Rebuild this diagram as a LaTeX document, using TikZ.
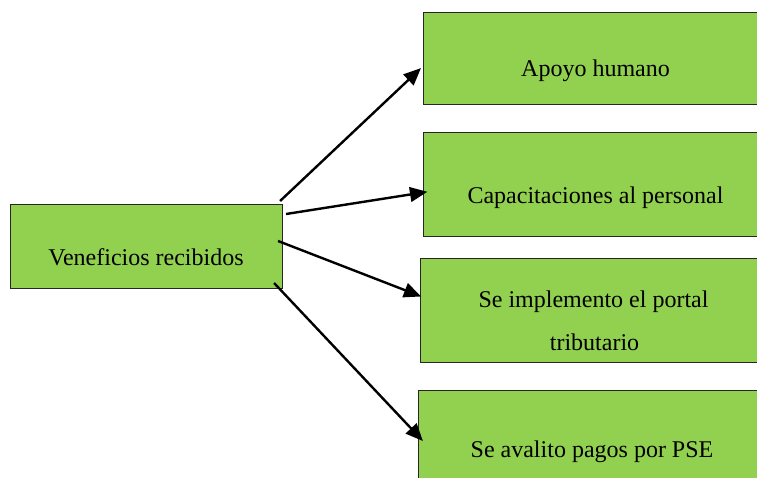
\documentclass[tikz,border=0pt]{standalone}
\usepackage{fontspec}
\setmainfont{Liberation Serif}
\usetikzlibrary{arrows.meta,calc}
\definecolor{boxgreen}{HTML}{92D050}
\tikzset{
  box/.style={draw=black!85, line width=0.8pt, fill=boxgreen, rectangle, inner sep=0pt, anchor=north west},
  txt/.style={anchor=base, inner sep=0pt, font=\fontsize{18}{22}\selectfont},
  conn/.style={line width=1.8pt, -{Triangle[length=13pt,width=11pt]}, shorten >=-1pt}
}
\begin{document}
\begin{tikzpicture}[x=0.75pt,y=-0.75pt]
\clip (0,0) rectangle (757,478);
\fill[white] (0,0) rectangle (757,478);
% boxes
\node[box, minimum width=272*0.75pt, minimum height=84*0.75pt] (main) at (10,204) {};
\node[box, minimum width=350*0.75pt, minimum height=92*0.75pt] (b1) at (423,12) {};
\node[box, minimum width=350*0.75pt, minimum height=104*0.75pt] (b2) at (423,132) {};
\node[box, minimum width=350*0.75pt, minimum height=104*0.75pt] (b3) at (420,258) {};
\node[box, minimum width=350*0.75pt, minimum height=110*0.75pt] (b4) at (418,390) {};
% texts
\node[txt] (tm) at (146,265) {Veneficios recibidos};
\node[txt] (t1) at (595.5,77) {Apoyo humano};
\node[txt] (t2) at (595.5,203) {Capacitaciones al personal};
\node[txt] (t3a) at (593.5,307) {Se implemento el portal};
\node[txt] (t3b) at (594.5,350) {tributario};
\node[txt] (t4) at (592,457) {Se avalito pagos por PSE};
% connectors
\draw[conn] ($(main.north east)+(-3,-3)$) -- ($(b1.north west)+(-3,57)$);
\draw[conn] ($(main.north east)+(3,10)$) -- ($(b2.north west)+(3,60)$);
\draw[conn] ($(main.north east)+(-5,37)$) -- ($(b3.north west)+(0,38)$);
\draw[conn] ($(main.north east)+(-9,79)$) -- ($(b4.north west)+(4,50)$);
\end{tikzpicture}
\end{document}
